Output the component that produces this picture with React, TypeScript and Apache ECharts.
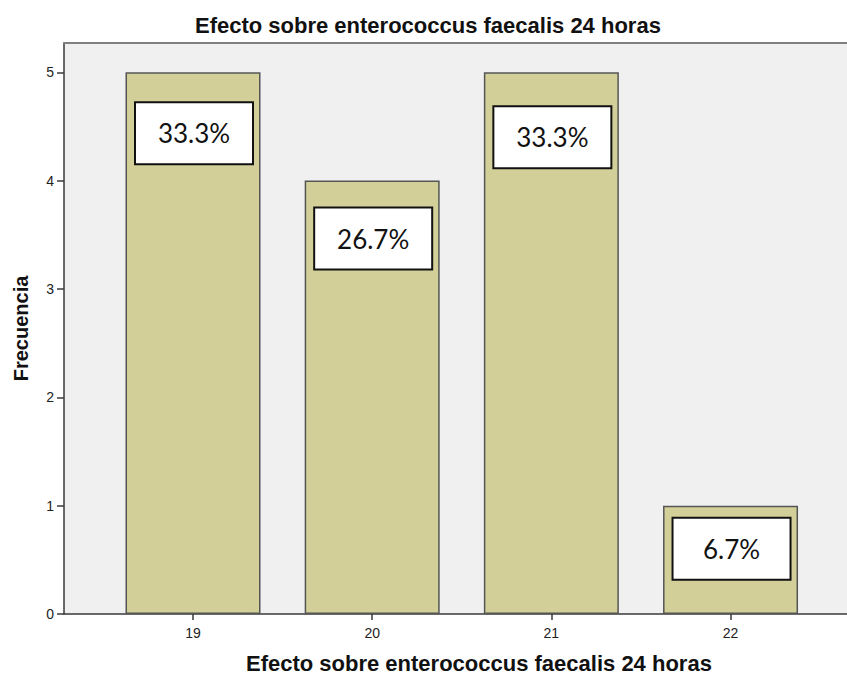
import React, { useEffect, useRef } from "react";
import * as echarts from "echarts";

// Counts per observed value
const categories = [19, 20, 21, 22];
const counts = [5, 4, 5, 1];
const yTicks = [0, 1, 2, 3, 4, 5];
// Vertical placement of each percentage box below its bar top (px)
const labelDistances = [31, 28, 35, 13];

const titleText = "Efecto sobre enterococcus faecalis 24 horas";
const yName = "Frecuencia";

export default function App() {
  const ref = useRef<HTMLDivElement>(null);

  useEffect(() => {
    if (!ref.current) return;
    const chart = echarts.init(ref.current, null, { renderer: "svg" });
    const total = counts.reduce((a, b) => a + b, 0);

    const data = categories.map((c, i) => ({
      value: [c, counts[i]],
      label: { distance: labelDistances[i] },
    }));

    chart.setOption({
      animation: false,
      title: [
        {
          text: titleText,
          left: 190,
          top: 9,
          textStyle: {
            fontFamily: "Liberation Sans",
            fontWeight: "bold",
            fontSize: 22,
            color: "#111",
          },
        },
        {
          text: titleText,
          left: 241,
          top: 647,
          textStyle: {
            fontFamily: "Liberation Sans",
            fontWeight: "bold",
            fontSize: 22,
            color: "#111",
          },
        },
      ],
      grid: {
        left: 64,
        right: 0,
        top: 43,
        bottom: 60,
        show: true,
        backgroundColor: "#f0f0f0",
        borderWidth: 0,
      },
      xAxis: [
        {
          type: "value",
          min: 18.28,
          max: 22.65,
          splitLine: { show: false },
          axisLine: { show: true, lineStyle: { color: "#3a3a3a", width: 1.5 } },
          axisTick: {
            show: true,
            length: 6,
            customValues: categories,
            lineStyle: { color: "#3a3a3a", width: 1.5 },
          },
          axisLabel: {
            customValues: categories,
            margin: 12,
            fontFamily: "Liberation Sans",
            fontSize: 14,
            color: "#222",
          },
        },
        {
          type: "value",
          position: "top",
          min: 18.28,
          max: 22.65,
          splitLine: { show: false },
          axisLine: { show: true, lineStyle: { color: "#808080", width: 2 } },
          axisTick: { show: false },
          axisLabel: { show: false },
        },
      ],
      yAxis: {
        type: "value",
        min: 0,
        max: 5.27,
        name: yName,
        nameLocation: "middle",
        nameGap: 33,
        nameTextStyle: {
          fontFamily: "Liberation Sans",
          fontWeight: "bold",
          fontSize: 20,
          color: "#111",
        },
        splitLine: { show: false },
        axisLine: { show: true, lineStyle: { color: "#3a3a3a", width: 1.5 } },
        axisTick: {
          show: true,
          length: 7,
          customValues: yTicks,
          lineStyle: { color: "#3a3a3a", width: 1.5 },
        },
        axisLabel: {
          customValues: yTicks,
          margin: 10,
          fontFamily: "Liberation Sans",
          fontSize: 14,
          color: "#222",
        },
      },
      series: [
        {
          type: "bar",
          xAxisIndex: 0,
          barWidth: 135,
          data,
          itemStyle: {
            color: "#d3cf99",
            borderColor: "#555",
            borderWidth: 1.5,
          },
          label: {
            show: true,
            position: "insideTop",
            offset: [1, 0],
            formatter: (p: any) =>
              ((p.value[1] / total) * 100).toFixed(1) + "%",
            width: 116,
            height: 60,
            lineHeight: 60,
            align: "center",
            backgroundColor: "#fff",
            borderColor: "#111",
            borderWidth: 2,
            fontFamily: "Lato",
            fontSize: 26,
            color: "#111",
          },
        },
      ],
    });

    return () => chart.dispose();
  }, []);

  return (
    <div
      ref={ref}
      style={{ position: "absolute", left: 0, top: 0, width: 847, height: 674 }}
    />
  );
}
